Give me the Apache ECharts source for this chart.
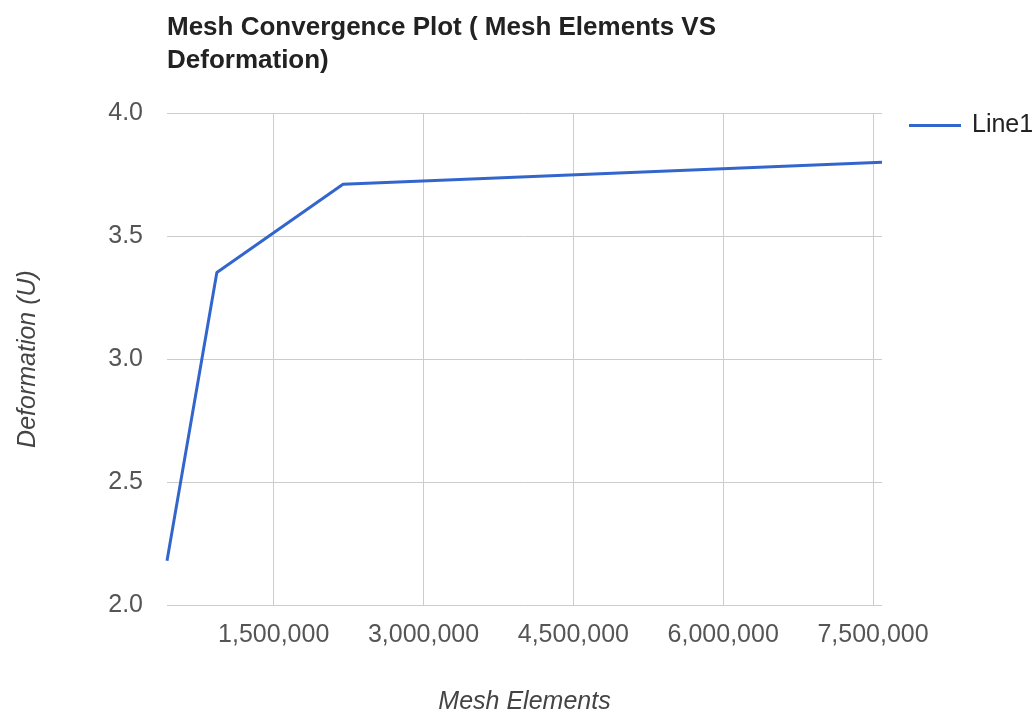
<!DOCTYPE html>
<html>
<head>
<meta charset="utf-8">
<script src="https://cdn.jsdelivr.net/npm/echarts@6/dist/echarts.min.js"></script>
<style>html,body{margin:0;padding:0;background:#fff}#c{width:1035px;height:714px}</style>
</head>
<body>
<div id="c"></div>
<script>
const titleText = 'Mesh Convergence Plot ( Mesh Elements VS\nDeformation)';
const seriesName = 'Line1';
const meshElements = [432000, 931000, 2194000, 7590000];
const deformation = [2.18, 3.352, 3.71, 3.80];
const xTicks = [1500000, 3000000, 4500000, 6000000, 7500000];
const yTicks = [2.0, 2.5, 3.0, 3.5, 4.0];
const xName = 'Mesh Elements';
const yName = 'Deformation (U)';

const fmtThousands = v => String(Math.round(v)).replace(/\B(?=(\d{3})+(?!\d))/g, ',');
const FONT = '"Liberation Sans", Arial, sans-serif';

const chart = echarts.init(document.getElementById('c'), null, {renderer: 'canvas'});
chart.setOption({
  animation: false,
  backgroundColor: '#ffffff',
  title: {
    text: titleText,
    left: 167, top: 11, padding: 0,
    textStyle: {fontFamily: FONT, fontSize: 26, fontWeight: 'bold', color: '#222', lineHeight: 33}
  },
  legend: {
    data: [{name: seriesName, icon: 'rect'}],
    left: 909, top: 113, padding: 0,
    itemWidth: 52, itemHeight: 3, itemGap: 8,
    itemStyle: {color: '#3366cc'},
    textStyle: {fontFamily: FONT, fontSize: 25, color: '#222', padding: [0, 0, 0, 6]}
  },
  grid: {left: 167, right: 153, top: 113, bottom: 109, containLabel: false, outerBoundsMode: 'none'},
  xAxis: {
    type: 'value',
    min: meshElements[0],
    max: meshElements[meshElements.length - 1],
    name: xName,
    nameLocation: 'middle',
    nameGap: 85,
    nameTextStyle: {fontFamily: FONT, fontSize: 25, fontStyle: 'italic', color: '#444'},
    axisLine: {show: false},
    axisTick: {show: false, customValues: xTicks},
    axisLabel: {customValues: xTicks, formatter: fmtThousands, margin: 18,
      fontFamily: FONT, fontSize: 25, color: '#555'},
    splitLine: {show: true, lineStyle: {color: '#cccccc', width: 1}}
  },
  yAxis: {
    type: 'value',
    min: yTicks[0], max: yTicks[yTicks.length - 1], interval: 0.5,
    name: yName,
    nameLocation: 'middle',
    nameGap: 126,
    nameTextStyle: {fontFamily: FONT, fontSize: 25, fontStyle: 'italic', color: '#444'},
    axisLine: {show: false},
    axisTick: {show: false},
    axisLabel: {formatter: v => v.toFixed(1), margin: 24,
      fontFamily: FONT, fontSize: 25, color: '#555'},
    splitLine: {show: true, lineStyle: {color: '#cccccc', width: 1}}
  },
  series: [{
    name: seriesName,
    type: 'line',
    data: meshElements.map((x, i) => [x, deformation[i]]),
    symbol: 'none',
    lineStyle: {color: '#3366cc', width: 3},
    itemStyle: {color: '#3366cc'}
  }]
});
</script>
</body>
</html>
